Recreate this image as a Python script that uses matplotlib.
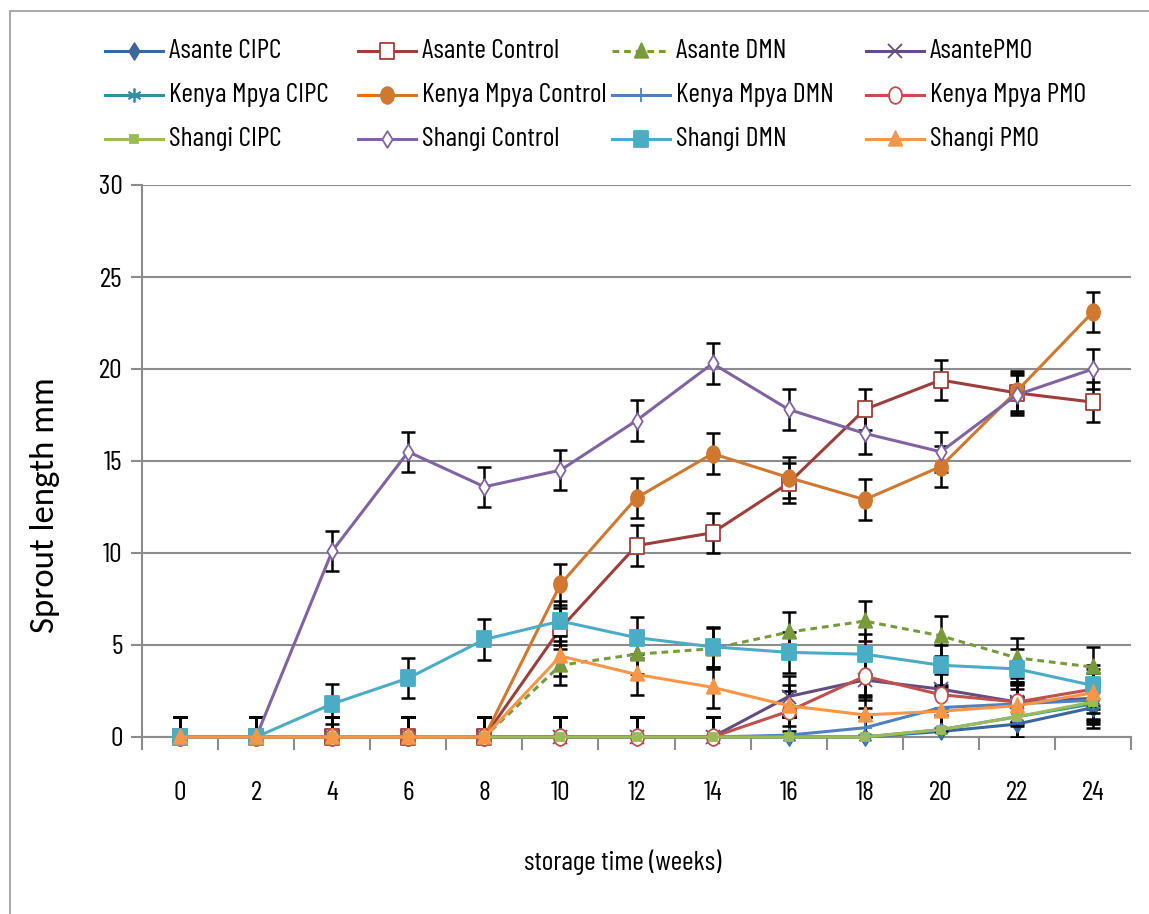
import matplotlib
matplotlib.use("Agg")
import matplotlib.pyplot as plt
import numpy as np
from matplotlib.lines import Line2D
from matplotlib.patches import Rectangle
from matplotlib.path import Path
from matplotlib.transforms import Affine2D

# sprout length (mm) per storage week
weeks = [0, 2, 4, 6, 8, 10, 12, 14, 16, 18, 20, 22, 24]
asante_cipc = [0, 0, 0, 0, 0, 0, 0, 0, 0, 0, 0.3, 0.7, 1.6]
asante_control = [0, 0, 0, 0, 0, 5.9, 10.4, 11.1, 13.8, 17.8, 19.4, 18.7, 18.2]
asante_dmn = [0, 0, 0, 0, 0, 3.9, 4.5, 4.8, 5.7, 6.3, 5.5, 4.3, 3.8]
asante_pmo = [0, 0, 0, 0, 0, 0, 0, 0, 2.2, 3.1, 2.6, 1.9, 2.1]
kenya_cipc = [0, 0, 0, 0, 0, 0, 0, 0, 0, 0, 0.4, 1.1, 1.8]
kenya_control = [0, 0, 0, 0, 0, 8.3, 13.0, 15.4, 14.1, 12.9, 14.7, 18.8, 23.1]
kenya_dmn = [0, 0, 0, 0, 0, 0, 0, 0, 0.1, 0.5, 1.6, 1.8, 2.0]
kenya_pmo = [0, 0, 0, 0, 0, 0, 0, 0, 1.4, 3.3, 2.3, 1.9, 2.6]
shangi_cipc = [0, 0, 0, 0, 0, 0, 0, 0, 0, 0, 0.4, 1.1, 1.9]
shangi_control = [0, 0, 10.1, 15.5, 13.6, 14.5, 17.2, 20.3, 17.8, 16.5, 15.5, 18.6, 20.0]
shangi_dmn = [0, 0, 1.8, 3.2, 5.3, 6.3, 5.4, 4.9, 4.6, 4.5, 3.9, 3.7, 2.8]
shangi_pmo = [0, 0, 0, 0, 0, 4.4, 3.4, 2.7, 1.7, 1.2, 1.4, 1.7, 2.4]
err = 1.1  # error bar half length

narrow = ["Barlow Condensed", "Archivo Narrow", "Liberation Sans Narrow", "DejaVu Sans"]
wide = ["Carlito", "Open Sans", "DejaVu Sans"]
plt.rcParams["font.family"] = narrow

# markers squeezed sideways like the original
diamond = Path([(0, 1), (0.62, 0), (0, -1), (-0.62, 0), (0, 1)], closed=True)
square = Path([(-0.85, -1), (0.85, -1), (0.85, 1), (-0.85, 1), (-0.85, -1)], closed=True)
tri = Path([(0, 1), (0.8, -0.75), (-0.8, -0.75), (0, 1)], closed=True)
ell = Path.unit_circle().transformed(Affine2D().scale(0.78, 1.0))

series = [
    ("Asante CIPC", asante_cipc, "#3B679C", diamond, True, "-"),
    ("Asante Control", asante_control, "#9E3E3B", square, False, "-"),
    ("Asante DMN", asante_dmn, "#789A3D", tri, True, (0, (2.2, 1.6))),
    ("AsantePMO", asante_pmo, "#634C80", "x", True, "-"),
    ("Kenya Mpya CIPC", kenya_cipc, "#348EA6", (6, 2, 0), True, "-"),
    ("Kenya Mpya Control", kenya_control, "#D0782F", ell, True, "-"),
    ("Kenya Mpya DMN", kenya_dmn, "#4F81BD", "+", True, "-"),
    ("Kenya Mpya PMO", kenya_pmo, "#C0504D", ell, False, "-"),
    ("Shangi CIPC", shangi_cipc, "#9BBB59", "s", True, "-"),
    ("Shangi Control", shangi_control, "#8064A2", diamond, False, "-"),
    ("Shangi DMN", shangi_dmn, "#4BACC6", square, True, "-"),
    ("Shangi PMO", shangi_pmo, "#F79646", tri, True, "-"),
]

fig = plt.figure(figsize=(11.49, 9.14), dpi=100)
ax = fig.add_axes([142 / 1149, 1 - 737 / 914, (1131 - 142) / 1149, (737 - 185) / 914])

styles = []
for k, (label, vals, col, mk, filled, ls) in enumerate(series):
    ms = 12
    if mk == "s":
        ms = 6
    elif mk in ("x", "+") or isinstance(mk, tuple):
        ms = 10
    st = dict(color=col, lw=2.2, linestyle=ls, marker=mk, markersize=ms,
              markeredgecolor=col, markerfacecolor=col if filled else "white",
              markeredgewidth=1.3)
    styles.append(st)
    ax.errorbar(weeks, vals, yerr=err, fmt="none", ecolor="black", elinewidth=1.8,
                capsize=5, capthick=1.8, zorder=2 + k * 0.1)
    ax.plot(weeks, vals, clip_on=False, zorder=3 + k * 0.1, **st)

ax.set_xlim(-1, 25)
ax.set_ylim(0, 30)
ax.set_xticks(weeks)
ax.set_xticklabels([str(w) for w in weeks], fontsize=20)
ax.set_xticks(np.arange(-1, 26, 2), minor=True)
ax.tick_params(axis="x", which="major", length=0, pad=32)
ax.tick_params(axis="x", which="minor", length=9, width=1.5, color="#8c8c8c", direction="out")
ax.set_yticks(np.arange(0, 31, 5))
ax.set_yticklabels([str(v) for v in range(0, 31, 5)], fontsize=20)
ax.tick_params(axis="y", length=8, width=1.5, color="#8c8c8c", pad=6)
ax.grid(axis="y", color="#8c8c8c", lw=1.5)
ax.set_axisbelow(True)
for s in ("top", "right"):
    ax.spines[s].set_visible(False)
for s in ("left", "bottom"):
    ax.spines[s].set_color("#8c8c8c")
    ax.spines[s].set_linewidth(1.5)

fig.text(623 / 1149, 1 - 862 / 914, "storage time (weeks)", ha="center", va="center",
         fontsize=20)
fig.text(45 / 1149, 1 - 505 / 914, "Sprout length mm", ha="center", va="center",
         rotation=90, family=wide, fontsize=25)

# legend laid out in fixed columns like the original
col_x = [105, 358, 612, 866]
row_y = [51, 95, 139]
for k, (label, *_rest) in enumerate(series):
    x0 = col_x[k % 4]
    y = 1 - row_y[k // 4] / 914
    xs = [x0 / 1149, (x0 + 29) / 1149, (x0 + 58) / 1149]
    fig.add_artist(Line2D(xs, [y, y, y], transform=fig.transFigure, markevery=[1], **styles[k]))
    fig.text((x0 + 64) / 1149, y, label, ha="left", va="center", fontsize=20)

fig.add_artist(Rectangle((10 / 1149, -0.05), 1.2, 1.05 - 11 / 914, transform=fig.transFigure,
                         fill=False, edgecolor="#999999", lw=1.2))

fig.savefig("out.png", dpi=100)
